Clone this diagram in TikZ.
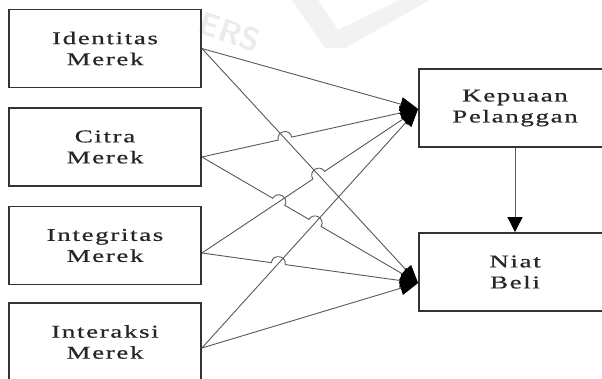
\documentclass[tikz,border=0pt]{standalone}
\usepackage{fontspec}
\setmainfont{Liberation Serif}[FakeStretch=1.5,LetterSpace=9,FakeBold=0.6]
\usetikzlibrary{arrows.meta,calc}

\tikzset{
  varbox/.style={draw=black!80, line width=1.8pt, minimum width=192pt,
    minimum height=78pt, inner sep=0pt, align=center, text=black!85,
    font=\fontsize{18}{21}\selectfont},
  conn/.style={draw=black!65, line width=0.9pt},
  headed/.style={conn, -{Triangle[length=18pt,width=14pt,color=black]}},
  hop/.style={bend left=90, looseness=1.7},
  wmtext/.style={text=black!8, font=\sffamily\bfseries\fontsize{32}{32}\selectfont}
}

\begin{document}
\begin{tikzpicture}[x=1pt,y=-1pt]
  \useasboundingbox (0,0) rectangle (602,379);
  \clip (0,0) rectangle (602,379);
  \fill[white] (0,0) rectangle (602,379);

  % faint watermark
  \node[wmtext, rotate=-18] (wm) at (230,32) {ERS};
  \fill[black!5] (292,0) -- (318,0) -- (338,30) -- (400,0) -- (430,0) -- (345,48) -- (325,48) -- cycle;

  % independent variables
  \node[varbox] (idn) at (105,48.5) {Identitas\\Merek};
  \node[varbox] (cit) at (105,147) {Citra\\Merek};
  \node[varbox] (itg) at (105,245.5) {Integritas\\Merek};
  \node[varbox] (itr) at (105,342) {Interaksi\\Merek};

  % dependent variables
  \node[varbox] (kep) at (515,108) {Kepuaan\\Pelanggan};
  \node[varbox] (nb) at (515,272) {Niat\\Beli};

  % connector end points
  \coordinate (s1) at (idn.east);
  \coordinate (s2) at ($(cit.east)+(0,10)$);
  \coordinate (s3) at ($(itg.east)+(0,7.5)$);
  \coordinate (s4) at ($(itr.east)+(0,6)$);
  \coordinate (t1) at ($(kep.west)+(0,1)$);
  \coordinate (t2) at ($(nb.west)+(0,11)$);

  % crossings that carry a line jump
  \coordinate (xa) at (intersection of s1--t2 and s2--t1);
  \coordinate (xb) at (intersection of s2--t2 and s3--t1);
  \coordinate (xc) at (intersection of s2--t2 and s4--t1);
  \coordinate (xd) at (intersection of s1--t2 and s3--t1);
  \coordinate (xe) at (intersection of s3--t2 and s4--t1);

  % plain connectors
  \draw[headed] (s1) -- (t1);
  \draw[headed] (s1) -- (t2);
  \draw[headed] (s4) -- (t1);
  \draw[headed] (s4) -- (t2);

  % connectors with jumps
  \draw[headed] (s2) -- ($(xa)!7pt!(s2)$) to[hop] ($(xa)!7pt!(t1)$) -- (t1);
  \draw[headed] (s2) -- ($(xb)!7pt!(s2)$) to[hop] ($(xb)!7pt!(t2)$)
                     -- ($(xc)!7pt!(s2)$) to[hop] ($(xc)!7pt!(t2)$) -- (t2);
  \draw[headed] (s3) -- ($(xd)!7pt!(s3)$) to[hop] ($(xd)!7pt!(t1)$) -- (t1);
  \draw[headed] (s3) -- ($(xe)!7pt!(s3)$) to[hop] ($(xe)!7pt!(t2)$) -- (t2);

  % satisfaction to purchase intention
  \draw[conn, -{Triangle[length=15pt,width=15pt,color=black]}] (kep.south) -- (nb.north);
\end{tikzpicture}
\end{document}
